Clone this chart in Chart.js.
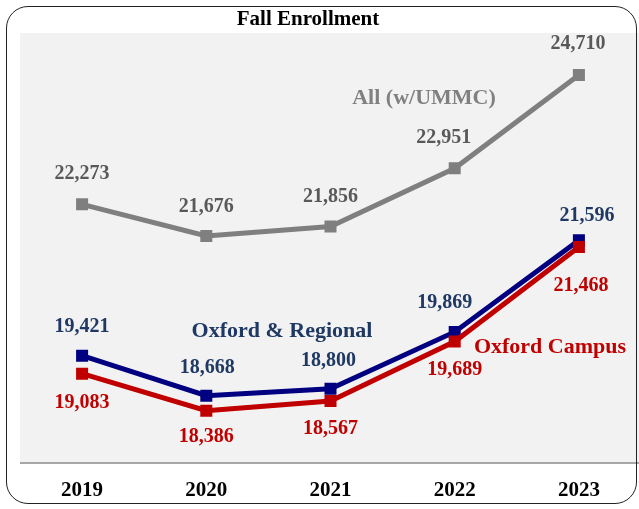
<!DOCTYPE html>
<html lang="en">

<head>
    <meta charset="UTF-8">
    <title>Fall Enrollment</title>
    <script src="https://cdn.jsdelivr.net/npm/chart.js"></script>
    <style>
        html,
        body {
            margin: 0;
            padding: 0;
            background: #fff;
            overflow: hidden;
        }

        .wrap {
            position: relative;
            width: 639px;
            height: 509px;
            overflow: hidden;
        }

        .chart-box {
            position: absolute;
            left: 0;
            top: 0;
            width: 641px;
            height: 509px;
        }

        .frame {
            position: absolute;
            left: 6px;
            top: 6px;
            width: 631px;
            height: 498px;
            box-sizing: border-box;
            border: 1.5px solid #222;
            border-radius: 22px;
            pointer-events: none;
        }
    </style>
</head>

<body>
    <div class="wrap">
        <div class="chart-box">
            <canvas id="enrollChart"></canvas>
        </div>
        <div class="frame"></div>
    </div>

    <script>
        // data
        const years = ['2019', '2020', '2021', '2022', '2023'];
        const allUmmc = [22273, 21676, 21856, 22951, 24710];
        const oxfordRegional = [19421, 18668, 18800, 19869, 21596];
        const oxfordCampus = [19083, 18386, 18567, 19689, 21468];

        const serif = '"Liberation Serif", "DejaVu Serif", serif';

        // background + axis line behind the lines
        const plotBg = {
            id: 'plotBg',
            beforeDraw(chart) {
                const { ctx, chartArea } = chart;
                ctx.save();
                ctx.fillStyle = '#f2f2f2';
                ctx.fillRect(chartArea.left, chartArea.top, chartArea.right - chartArea.left, chartArea.bottom - chartArea.top);
                ctx.strokeStyle = '#a6a6a6';
                ctx.lineWidth = 2;
                ctx.beginPath();
                ctx.moveTo(chartArea.left, chartArea.bottom);
                ctx.lineTo(chartArea.right, chartArea.bottom);
                ctx.stroke();
                ctx.restore();
            }
        };

        // value labels, series names, title
        const labelsPlugin = {
            id: 'labelsPlugin',
            afterDatasetsDraw(chart) {
                const ctx = chart.ctx;
                ctx.save();
                ctx.textAlign = 'center';
                ctx.textBaseline = 'middle';
                ctx.font = 'bold 20px ' + serif;
                chart.data.datasets.forEach((ds, i) => {
                    const meta = chart.getDatasetMeta(i);
                    ctx.fillStyle = ds.labelColor;
                    meta.data.forEach((pt, j) => {
                        const off = ds.labelOffsets[j];
                        ctx.fillText(ds.data[j].toLocaleString('en-US'), pt.x + off[0], pt.y + off[1]);
                    });
                });

                // series names
                ctx.font = 'bold 22px ' + serif;
                ctx.fillStyle = '#808080';
                ctx.fillText('All (w/UMMC)', 424, 98);
                ctx.fillStyle = '#1f3864';
                ctx.fillText('Oxford & Regional', 282, 331);
                ctx.fillStyle = '#c00000';
                ctx.fillText('Oxford Campus', 550, 347);

                // title
                ctx.fillStyle = '#000';
                ctx.font = 'bold 21px ' + serif;
                ctx.fillText('Fall Enrollment', 308, 20);
                ctx.restore();
            }
        };

        new Chart(document.getElementById('enrollChart'), {
            type: 'line',
            data: {
                labels: years,
                datasets: [{
                    label: 'Oxford Campus',
                    data: oxfordCampus,
                    borderColor: '#c00000',
                    backgroundColor: '#c00000',
                    labelColor: '#c00000',
                    labelOffsets: [[0, 29], [0, 26], [0, 28], [0, 28], [2, 39]],
                    order: 0
                }, {
                    label: 'Oxford & Regional',
                    data: oxfordRegional,
                    borderColor: '#000080',
                    backgroundColor: '#000080',
                    labelColor: '#1f3864',
                    labelOffsets: [[0, -29], [1, -28], [-2, -28], [-10, -29], [8, -24]],
                    order: 1
                }, {
                    label: 'All (w/UMMC)',
                    data: allUmmc,
                    borderColor: '#7f7f7f',
                    backgroundColor: '#7f7f7f',
                    labelColor: '#595959',
                    labelOffsets: [[0, -30], [0, -29], [0, -30], [-11, -30], [-1, -31]],
                    order: 2
                }]
            },
            options: {
                responsive: true,
                maintainAspectRatio: false,
                animation: false,
                devicePixelRatio: 1,
                layout: {
                    autoPadding: false,
                    padding: { left: 20, right: 0, top: 33, bottom: 8 }
                },
                elements: {
                    line: { borderWidth: 5, tension: 0 },
                    point: { pointStyle: 'rect', radius: 8.5, borderWidth: 0 }
                },
                scales: {
                    x: {
                        offset: true,
                        grid: { display: false, drawTicks: false },
                        border: { display: false },
                        ticks: {
                            padding: 15,
                            color: '#000',
                            font: { family: serif, size: 21, weight: 'bold' }
                        },
                        afterFit(scale) {
                            scale.height = 38;
                        }
                    },
                    y: {
                        display: false,
                        min: 17400,
                        max: 25500
                    }
                },
                plugins: {
                    legend: { display: false },
                    tooltip: { enabled: false }
                }
            },
            plugins: [plotBg, labelsPlugin]
        });
    </script>
</body>

</html>
